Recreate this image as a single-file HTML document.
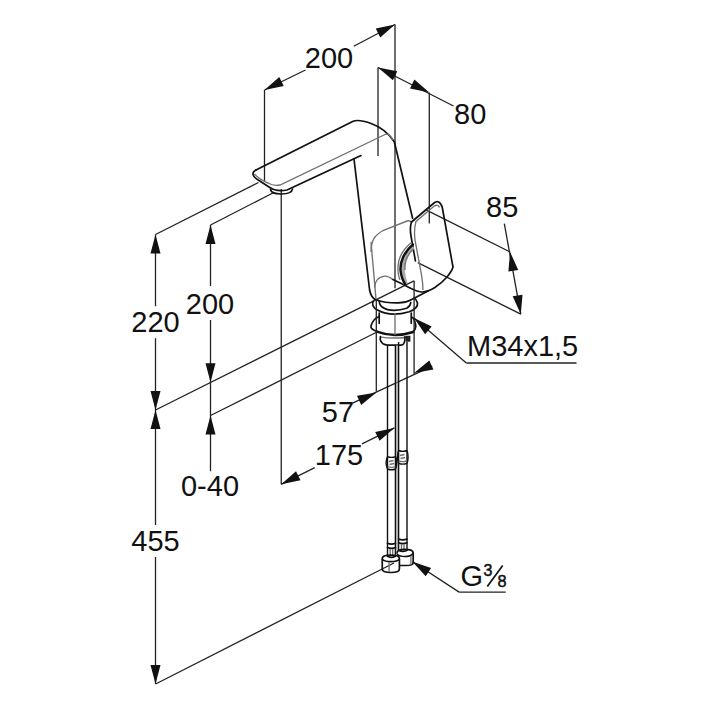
<!DOCTYPE html>
<html><head><meta charset="utf-8"><style>
html,body{margin:0;padding:0;background:#fff;}
svg{display:block;}
text{font-family:"Liberation Sans",sans-serif;fill:#111;}
.d{stroke:#222;stroke-width:1.3;fill:none;}
.o{stroke:#111;stroke-width:1.7;fill:none;stroke-linecap:round;stroke-linejoin:round;}
.o2{stroke:#151515;stroke-width:2.6;fill:none;}
.h{stroke:#111;stroke-width:1.4;fill:none;}
.o3{stroke:#111;stroke-width:2.4;fill:none;stroke-linecap:round;}
.g{stroke:#707070;stroke-width:1.35;fill:none;}
</style></head><body>
<svg width="720" height="720" viewBox="0 0 720 720">

<rect width="720" height="720" fill="#fff"/>
<g>
<line x1="264.5" y1="90" x2="264.5" y2="181" class="d"/>
<line x1="395" y1="24.5" x2="395" y2="288.3" class="d"/>
<line x1="264.5" y1="90" x2="305.5" y2="70" class="d"/>
<line x1="353.75" y1="46.25" x2="395" y2="24.5" class="d"/>
<polygon points="264.50,90.00 279.24,77.01 283.72,85.95" fill="#111"/>
<polygon points="395.00,24.50 380.26,37.49 375.78,28.55" fill="#111"/>
<text x="329" y="68" font-size="29" text-anchor="middle">200</text>
<line x1="378" y1="67.5" x2="378" y2="156" class="d"/>
<line x1="429.3" y1="92.4" x2="429.3" y2="223.5" class="d"/>
<line x1="378" y1="67.5" x2="453.5" y2="106" class="d"/>
<polygon points="378.00,67.50 397.28,71.30 392.91,80.29" fill="#111"/>
<polygon points="429.30,92.40 410.02,88.60 414.39,79.61" fill="#111"/>
<text x="454" y="124.3" font-size="29" text-anchor="start">80</text>
<line x1="426.5" y1="210.1" x2="510.1" y2="252" class="d"/>
<line x1="417.8" y1="262.6" x2="520.8" y2="314.2" class="d"/>
<line x1="504.3" y1="223.7" x2="520.8" y2="314.2" class="d"/>
<polygon points="510.10,252.00 518.25,269.88 508.39,271.57" fill="#111"/>
<polygon points="520.80,314.20 512.65,296.32 522.51,294.63" fill="#111"/>
<text x="486" y="217" font-size="29" text-anchor="start">85</text>
<line x1="155.5" y1="234.5" x2="258.5" y2="182.5" class="d"/>
<line x1="155.5" y1="234.5" x2="155.5" y2="306.25" class="d"/>
<line x1="155.5" y1="338.3" x2="155.5" y2="684" class="d"/>
<polygon points="155.50,234.50 160.50,253.50 150.50,253.50" fill="#111"/>
<polygon points="155.50,410.00 150.50,391.00 160.50,391.00" fill="#111"/>
<text x="155.5" y="332" font-size="29" text-anchor="middle">220</text>
<line x1="155.5" y1="410" x2="413.9" y2="280.8" class="d"/>
<line x1="210.5" y1="225" x2="273.75" y2="192.5" class="d"/>
<line x1="210.5" y1="225" x2="210.5" y2="286" class="d"/>
<line x1="210.5" y1="320" x2="210.5" y2="471.25" class="d"/>
<polygon points="210.50,225.00 215.50,244.00 205.50,244.00" fill="#111"/>
<polygon points="210.50,382.30 205.50,363.30 215.50,363.30" fill="#111"/>
<text x="210" y="313.75" font-size="29" text-anchor="middle">200</text>
<line x1="210.5" y1="415.5" x2="377" y2="332" class="d"/>
<polygon points="155.50,410.00 160.50,429.00 150.50,429.00" fill="#111"/>
<rect x="140" y="525" width="40" height="32" fill="#fff"/>
<polygon points="155.50,684.00 150.50,665.00 160.50,665.00" fill="#111"/>
<text x="155.5" y="550.5" font-size="29" text-anchor="middle">455</text>
<line x1="155.6" y1="684" x2="394" y2="563" class="d"/>
<polygon points="210.50,415.50 215.50,434.50 205.50,434.50" fill="#111"/>
<text x="210" y="496.25" font-size="29" text-anchor="middle">0-40</text>
<line x1="281.25" y1="189" x2="281.25" y2="484.3" class="d"/>
<line x1="281.25" y1="484.3" x2="314.7" y2="467.6" class="d"/>
<line x1="362" y1="443.8" x2="394.4" y2="427.9" class="d"/>
<polygon points="281.25,484.30 296.02,471.35 300.49,480.30" fill="#111"/>
<polygon points="394.40,427.90 379.63,440.85 375.16,431.90" fill="#111"/>
<text x="339" y="465" font-size="29" text-anchor="middle">175</text>
<line x1="352.5" y1="403.2" x2="432.2" y2="366.2" class="d"/>
<polygon points="376.40,392.50 361.17,404.91 357.03,395.81" fill="#111"/>
<polygon points="414.10,373.00 429.24,360.48 433.44,369.55" fill="#111"/>
<text x="338" y="421.5" font-size="29" text-anchor="middle">57</text>
<line x1="414" y1="318" x2="466.3" y2="363" class="d"/>
<line x1="466.3" y1="363" x2="576.5" y2="363" class="d"/>
<polygon points="414.00,318.00 431.66,326.60 425.14,334.18" fill="#111"/>
<text x="467" y="355.6" font-size="29" text-anchor="start">M34x1,5</text>
<line x1="412.5" y1="561.7" x2="459.2" y2="592.1" class="d"/>
<line x1="459.2" y1="592.1" x2="505.8" y2="592.1" class="d"/>
<polygon points="412.50,561.70 431.15,567.88 425.70,576.26" fill="#111"/>
<text x="460.5" y="585.8" font-size="29" text-anchor="start">G</text>
<text x="483.6" y="575.6" font-size="16" stroke="#111" stroke-width="0.5">3</text>
<text x="497.6" y="586.7" font-size="16.3" stroke="#111" stroke-width="0.5">8</text>
<line x1="487.3" y1="586.5" x2="502.7" y2="565.6" stroke="#111" stroke-width="1.7"/>
<path d="M256,170 L352.6,121.5 C358,119 381,122 394.3,141.7 L412.6,218.2" class="o"/>
<path d="M256,170 C252,172 251,176 259,180.5 L269,187 C274,190.5 280,191.5 287,190 L361,155.6" class="o"/>
<path d="M254.4,174 C258,178 263,181 268,183 C272,185.5 276,185.8 280,185 L385,134.5 C388,133 391,136 393,140" class="g"/>
<path d="M354,159 L369.6,290 C370.5,295 373,299 376.7,300" class="o"/>
<path d="M270.5,189.5 C271,192 275,194 281,194 C287,194 292,192.5 292.5,189" class="o"/>
<path d="M371,252 C371,240 375,235 383,230.5 L407,221 C409,220.5 410.5,221 411,222" class="g"/>
<path d="M371,242 L376,299" class="g"/>
<path d="M376.7,300 C382,302 390,303 398.3,302.9 C404,302.8 408,301.5 410.8,300 L428,291" class="o"/>
<path d="M374.6,287.4 C375,281 379,277 384.3,276.2 C388,275.8 391,278 393,279.6" class="g"/>
<path d="M393,279.6 C398,282 404,285 410,288 C414,290 418,292 422,292 C430,292 440,285 447,277 C451,272 453,269 452.9,266.7" class="o"/>
<path d="M411.5,222 L434,203 C437,200.5 440.5,201.5 442.3,207.5 L452.9,266.7" class="o"/>
<path d="M411.5,222 C410,226 410,230 411,236 L415.4,260.8" class="o"/>
<path d="M423,290 C423,286 422.5,281 421.5,275 L415,240 C414.3,234 414,228 416,221.5 L434,206.3 C436.5,204.5 438.5,205 439.5,207.5" class="g"/>
<path d="M413,246.5 C405.5,253 402,262 402.5,270 C403,276 404,280 405.5,284" stroke="#aaa" stroke-width="4.5" fill="none"/>
<path d="M411.5,242.5 C402,250 397.5,260 398,270 C398.3,275 399,278 400,280" class="g"/>
<path d="M412.9,244.6 C404,252 400,262 400.5,270 C401,276 402.5,280 405,284" class="o3"/>
<path d="M413.5,249 C407,255 404.5,263 405,270" class="g"/>
<path d="M373.3,301.25 C371.5,304 373,308 377.5,310 C383,313 390,314.2 394.2,314.2 C400,314.2 405,313 409.2,311.7 C414,310 418,307 417.5,303 C417,301 416,299 414.2,297.9" class="o"/>
<path d="M379.2,301.7 C379.5,304 380,305.5 381.7,306.7 C385,309 390,310.4 394.2,310.4 C399,310.4 403,309.5 406.7,308.3 C409,307 410.5,305 410.8,302.5" class="o"/>
<line x1="379.2" y1="313" x2="379.2" y2="323.3" class="o"/>
<line x1="411.25" y1="313" x2="411.25" y2="323.3" class="o"/>
<path d="M378.75,316.7 C375,318 372.5,321 371,325.8 C370.5,328 372,330 377.5,331.5" class="o"/>
<path d="M412.5,317.5 C414,319 415.5,322 415.8,326.7 C415.5,329 414.5,330.5 413.3,331.5" class="o"/>
<path d="M376.7,331.7 C383,334 389,335 395,335 C401,335 407,334 413.3,332" class="o3"/>
<path d="M380,336.8 C388,338.5 402,338.5 410,336.5" class="g"/>
<path d="M380.4,336.7 L380.2,339.5 C381,343 384,345 388,345.2 L401,345.2 C403.5,345 404.6,343 404.8,340 L405,336.7" class="o"/>
<rect x="405.8" y="335.8" width="4.6" height="5.9" fill="#222"/>
<line x1="376.3" y1="299" x2="376.3" y2="391.5" class="d"/>
<line x1="414.1" y1="280.8" x2="414.1" y2="374" class="d"/>
<line x1="395" y1="313" x2="395" y2="335" class="g"/>
<line x1="397" y1="345" x2="397" y2="550" stroke="#999" stroke-width="1.2"/>
<line x1="387.5" y1="345.2" x2="387.5" y2="557" class="h"/>
<line x1="395.4" y1="345.2" x2="395.4" y2="557" class="h"/>
<line x1="398.6" y1="342" x2="398.6" y2="551" class="h"/>
<line x1="407.0" y1="342" x2="407.0" y2="551" class="h"/>
<path d="M387.5,456.6 C390,457.6 393,457.6 395.6,456.6 M387.5,469 C390,470 393,470 395.6,469" class="h"/>
<path d="M387.5,456.6 C386,460 385.8,465 387.5,469 M395.6,456.6 C397,460 397,465 395.6,469" class="h"/>
<path d="M387.8,466.5 C390,467.5 393,467.5 395.4,466.5" class="g"/>
<path d="M398.6,450.5 C401,451.5 404.5,451.5 407,450.5 M398.6,463.3 C401,464.3 404.5,464.3 407,463.3" class="h"/>
<path d="M398.6,450.5 C397.2,454 397.2,460 398.6,463.3 M407,450.5 C408.4,454 408.4,460 407,463.3" class="h"/>
<path d="M398.8,460.8 C401,461.8 404.5,461.8 406.8,460.8" class="g"/>
<path d="M389,461.5 L393.5,460.5 M389.5,464.5 L394,463.5 M400,455.5 L404.5,454.5 M400.5,458.5 L405,457.5" class="g"/>
<path d="M387.5,543.3 C390,544.3 393,544.3 395.4,543.3 M387.5,547.5 C390,548.5 393,548.5 395.4,547.5" class="o"/>
<path d="M390.2,549 L390.2,556 M392.7,549 L392.7,556" class="g"/>
<path d="M388,556.5 C390,557.5 393,557.5 395,556.5" class="o"/>
<path d="M398.6,539.1 C401,540 404.5,540 407,539.1 M398.6,542.8 C401,543.8 404.5,543.8 407,542.8" class="o"/>
<path d="M401.5,544 L401.5,550.5 M404,544 L404,550.5" class="g"/>
<path d="M399,550.5 C401,551.5 404.5,551.5 406.6,550.5" class="o"/>
<path d="M397,553 C397,550.5 400.5,549.4 405,549.4 C409.5,549.4 413.2,550.5 413.2,553 L413.2,563 C413,564.5 410,565.5 406,565.5 L400,565.5" class="o"/>
<path d="M397.5,554.5 C399,556 402,556.5 405,556.5 C408.5,556.5 411.5,555.5 413,553.5" class="o"/>
<path d="M410.9,556 L410.9,564.8" class="g"/>
<path d="M382.25,558.5 C382.25,556 386,555.2 391,555.2 C396,555.2 399.4,556 399.4,558.5 L399.4,569 C399.4,571.5 396,572.5 391,572.5 C386,572.5 382.25,571.5 382.25,569 Z" class="o"/>
<path d="M382.5,559.5 C384,561 387,561.6 391,561.6 C395,561.6 398,561 399.2,559.5" class="o"/>
<path d="M389.1,562 L389.1,572" class="g"/>
</g>
</svg></body></html>
